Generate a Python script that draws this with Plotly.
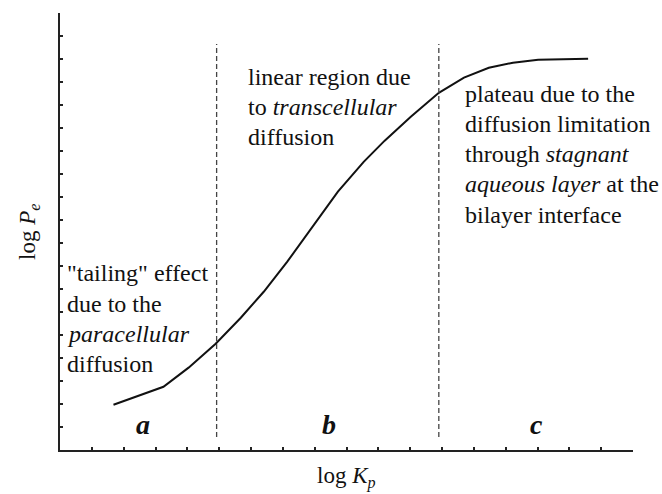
import plotly.graph_objects as go

# Curve (arbitrary units: log Kp vs log Pe)
log_kp = [1.68, 3.25, 4.04, 4.89, 5.68, 6.40, 7.14, 8.07, 8.73, 9.54, 10.20,
          11.02, 11.90, 12.69, 13.47, 14.23, 15.02, 16.59]
log_pe = [1.97, 2.75, 3.58, 4.62, 5.75, 6.88, 8.19, 9.97, 11.23, 12.53, 13.45,
          14.49, 15.53, 16.19, 16.62, 16.84, 16.97, 17.01]

# Region boundaries (dashed lines)
boundaries = [4.92, 11.90]
boundary_y = [0.57, 17.65]

# Region labels
region_labels = ["a", "b", "c"]
region_label_x = [2.62, 8.44, 14.97]
region_label_y = 1.13

# Region descriptions (one entry per text line)
desc_lines = [
    ['"tailing" effect', 'due to the', '<i>paracellular</i>', 'diffusion'],
    ['linear region due', 'to <i>transcellular</i>', 'diffusion'],
    ['plateau due to the', 'diffusion limitation', 'through <i>stagnant</i>',
     '<i>aqueous layer</i> at the', 'bilayer interface'],
]
desc_x = [0.16, 5.83, 12.66]
desc_y = [7.68, 16.23, 15.50]
LINE_STEP = 1.317  # in y-axis units

X_RANGE = [0, 18]
Y_RANGE = [0, 19]

FONT = "Liberation Serif"

fig = go.Figure()

fig.add_trace(go.Scatter(x=log_kp, y=log_pe, mode="lines",
                         line=dict(color="#111111", width=2), hoverinfo="skip",
                         showlegend=False))

for b in boundaries:
    fig.add_trace(go.Scatter(x=[b, b], y=boundary_y, mode="lines",
                             line=dict(color="#444444", width=1.3, dash="5px,3px"),
                             hoverinfo="skip", showlegend=False))

for lab, lx in zip(region_labels, region_label_x):
    fig.add_annotation(x=lx, y=region_label_y, xref="x", yref="y",
                       text=f"<b><i>{lab}</i></b>", showarrow=False,
                       font=dict(family=FONT, size=28, color="#111111"))

for lines, tx, ty in zip(desc_lines, desc_x, desc_y):
    for i, line in enumerate(lines):
        fig.add_annotation(x=tx, y=ty - i * LINE_STEP, xref="x", yref="y",
                           text=line, showarrow=False,
                           xanchor="left", yanchor="middle", align="left",
                           font=dict(family=FONT, size=24, color="#111111"))

# Axis titles
fig.add_annotation(x=-0.055, y=0.5, xref="paper", yref="paper",
                   text="log <i>P</i><sub><i>e</i></sub>", showarrow=False,
                   textangle=-90, xanchor="center", yanchor="middle",
                   font=dict(family=FONT, size=23, color="#111111"))
fig.add_annotation(x=0.5, y=-0.062, xref="paper", yref="paper",
                   text="log <i>K</i><sub><i>p</i></sub>", showarrow=False,
                   xanchor="center", yanchor="middle",
                   font=dict(family=FONT, size=23, color="#111111"))

fig.update_xaxes(range=X_RANGE, showline=True, linecolor="#222222", linewidth=2,
                 ticks="inside", tickvals=list(range(1, 18)), ticklen=3,
                 tickwidth=1.5, tickcolor="#222222", showticklabels=False,
                 showgrid=False, zeroline=False)
fig.update_yaxes(range=Y_RANGE, showline=True, linecolor="#222222", linewidth=2,
                 ticks="inside", tickvals=list(range(1, 19)), ticklen=3,
                 tickwidth=1.5, tickcolor="#222222", showticklabels=False,
                 showgrid=False, zeroline=False)

fig.update_layout(width=662, height=494, margin=dict(l=60, r=29, t=13, b=44),
                  plot_bgcolor="white", paper_bgcolor="white",
                  font=dict(family=FONT))

fig.write_html("out.html")
